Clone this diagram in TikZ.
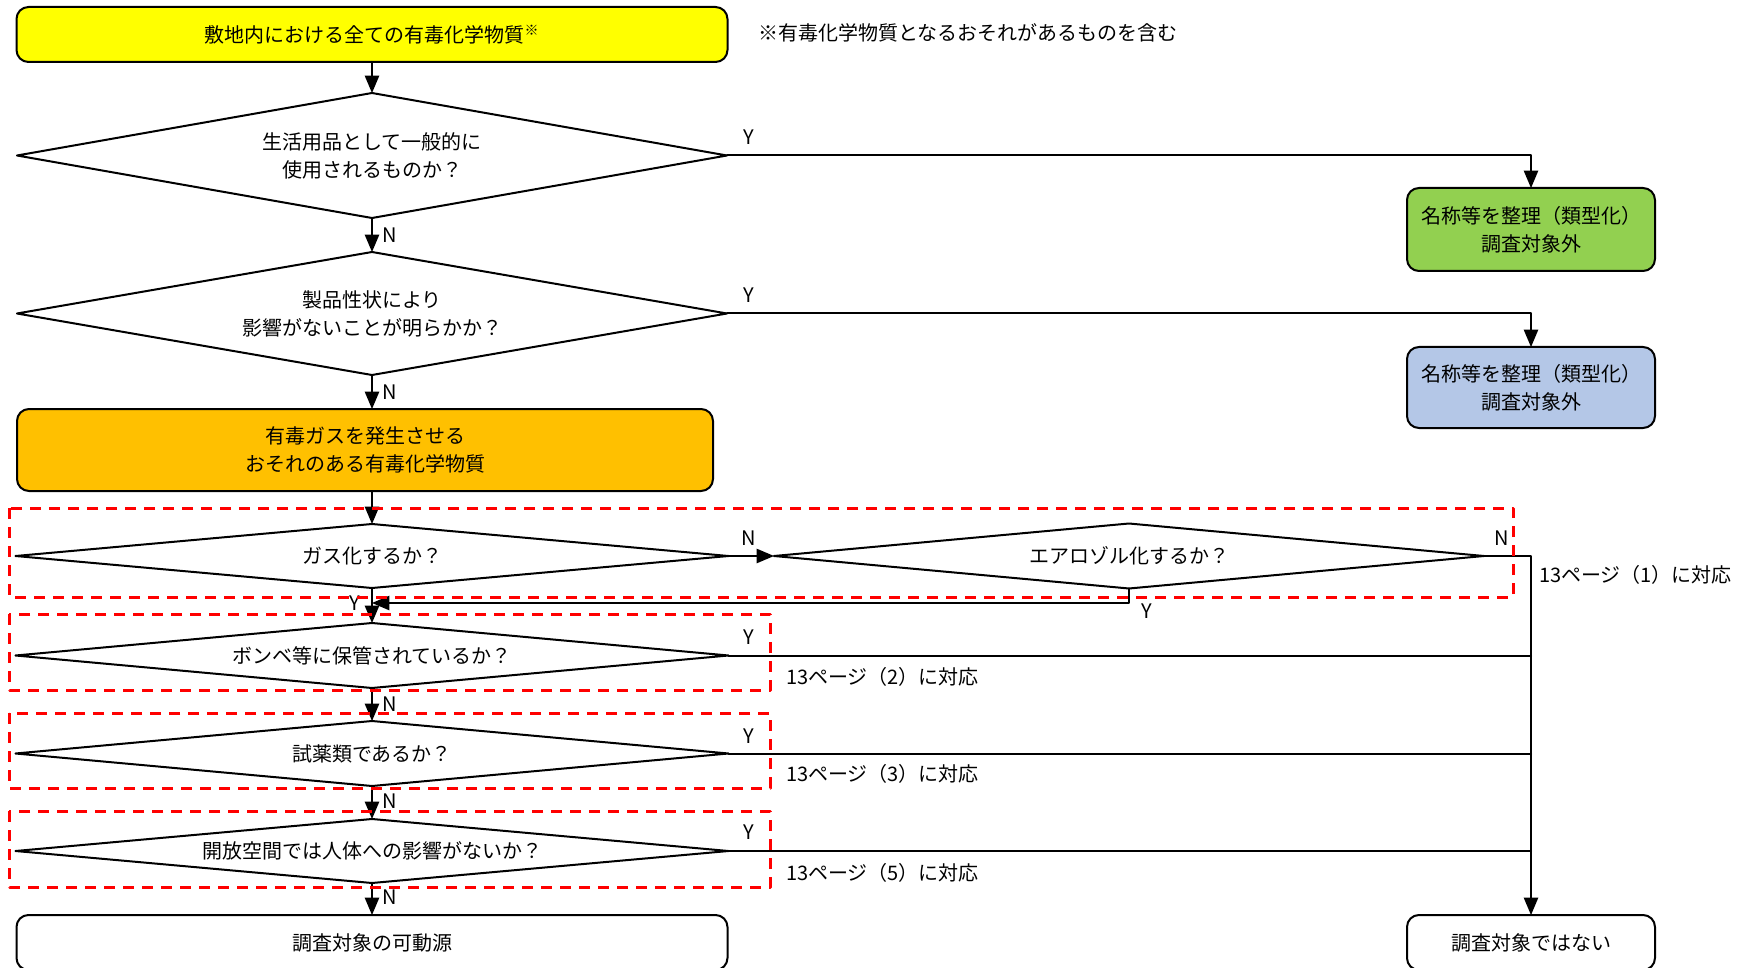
\documentclass[tikz,border=0pt]{standalone}
\usepackage{fontspec}
\setmainfont{Noto Sans CJK JP}
\usetikzlibrary{arrows,shapes.geometric}
\definecolor{boxyellow}{HTML}{FFFF00}
\definecolor{boxorange}{HTML}{FFC000}
\definecolor{boxgreen}{HTML}{92D050}
\definecolor{boxblue}{HTML}{B4C7E7}
\definecolor{dashred}{HTML}{FF0000}

\begin{document}
\begin{tikzpicture}[line cap=round,line join=round,>=triangle 45,x=0.5pt,y=-0.5pt,
	every node/.style={font=\fontsize{10}{14}\selectfont,align=center,outer sep=0pt},
	box/.style={draw,line width=1pt,rounded corners=6pt,minimum width=355.5pt,minimum height=27.5pt},
	sidebox/.style={box,minimum width=124pt,minimum height=41.5pt},
	decision/.style={draw,line width=1pt,shape=diamond,inner sep=0pt,aspect=11,minimum width=356.5pt,minimum height=32.5pt},
	yn/.style={inner sep=0pt},
	remark/.style={anchor=west,inner sep=0pt},
	conn/.style={line width=1pt},
	redbox/.style={draw=dashred,line width=1.5pt,line cap=butt,dash pattern=on 5.5pt off 4pt}]
	\clip(0,0) rectangle (1746,968);
	\node[box,fill=boxyellow] (all) at (372,34.5) {敷地内における全ての有毒化学物質\textsuperscript{※}};
	\node[remark] (note) at (758,33) {※有毒化学物質となるおそれがあるものを含む};
	\node[decision,aspect=5.7,minimum width=355pt,minimum height=62.5pt] (daily) at (372,155.5) {生活用品として一般的に\\使用されるものか？};
	\node[decision,aspect=5.7,minimum width=355pt,minimum height=61.5pt] (prop) at (372,313.5) {製品性状により\\影響がないことが明らかか？};
	\node[box,fill=boxorange,minimum width=348pt,minimum height=41pt] (gas) at (365,450) {有毒ガスを発生させる\\おそれのある有毒化学物質};
	\node[sidebox,fill=boxgreen] (typeA) at (1531,229.5) {名称等を整理（類型化）\\調査対象外};
	\node[sidebox,fill=boxblue,minimum height=40.5pt] (typeB) at (1531,387.5) {名称等を整理（類型化）\\調査対象外};
	\node[decision,minimum height=32pt] (gasq) at (372,556) {ガス化するか？};
	\node[decision,minimum width=355pt] (aero) at (1129,556) {エアロゾル化するか？};
	\node[decision] (cyl) at (372,655.5) {ボンベ等に保管されているか？};
	\node[decision] (reag) at (372,753.5) {試薬類であるか？};
	\node[decision,minimum height=32pt] (open) at (372,851) {開放空間では人体への影響がないか？};
	\node[box] (src) at (372,942.5) {調査対象の可動源};
	\node[box,minimum width=124pt] (nosrc) at (1531,942.5) {調査対象ではない};
	\coordinate (merge) at (372,603);
	\draw[conn,->] (all) -- (daily);
	\draw[conn,->] (daily) -- (prop);
	\draw[conn,->] (daily.east) -| (typeA.north);
	\draw[conn,->] (prop.east) -| (typeB.north);
	\draw[conn,->] (prop.south) -- (prop.south |- gas.north);
	\draw[conn,->] (gas.south -| gasq.north) -- (gasq.north);
	\draw[conn,->] (gasq) -- (aero);
	\draw[conn,->] (aero.east) -| (nosrc.north);
	\draw[conn,->] (aero.south) |- (merge);
	\draw[conn,->] (gasq) -- (cyl);
	\draw[conn] (cyl.east) -- (cyl.east -| nosrc.north);
	\draw[conn,->] (cyl) -- (reag);
	\draw[conn] (reag.east) -- (reag.east -| nosrc.north);
	\draw[conn,->] (reag) -- (open);
	\draw[conn] (open.east) -- (open.east -| nosrc.north);
	\draw[conn,->] (open) -- (src);
	\node[yn] (ydaily) at (749,137) {Y};
	\node[yn] (ndaily) at (390,235) {N};
	\node[yn] (yprop) at (749,295) {Y};
	\node[yn] (nprop) at (390,392) {N};
	\node[yn] (ngasq) at (749,538) {N};
	\node[yn] (naero) at (1502,538) {N};
	\node[yn] (yaero) at (1147,611) {Y};
	\node[yn] (ygasq) at (355,603) {Y};
	\node[yn] (ycyl) at (749,637) {Y};
	\node[yn] (ncyl) at (390,704) {N};
	\node[yn] (yreag) at (749,736) {Y};
	\node[yn] (nreag) at (390,801) {N};
	\node[yn] (yopen) at (749,832) {Y};
	\node[yn] (nopen) at (390,897) {N};
	\node[remark] (page1) at (1539,575) {13ページ（1）に対応};
	\node[remark] (page2) at (786,677) {13ページ（2）に対応};
	\node[remark] (page3) at (786,774) {13ページ（3）に対応};
	\node[remark] (page5) at (786,873) {13ページ（5）に対応};
	\draw[redbox] (9,508) rectangle (1513,597);
	\draw[redbox] (9,614) rectangle (770,690);
	\draw[redbox] (9,713) rectangle (770,788);
	\draw[redbox] (9,811) rectangle (770,887);
\end{tikzpicture}
\end{document}
